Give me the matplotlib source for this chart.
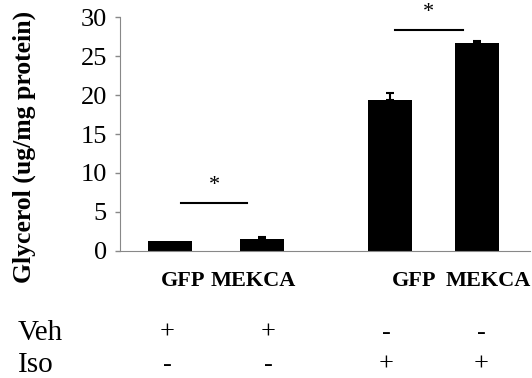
import matplotlib
matplotlib.use("Agg")
import matplotlib.pyplot as plt

groups = ["GFP", "MEKCA", "GFP", "MEKCA"]
values = [1.3, 1.6, 19.4, 26.7]
errors = [0.0, 0.2, 0.9, 0.25]
veh = ["+", "+", "-", "-"]
iso = ["-", "-", "+", "+"]
sig_pairs = [(0, 1), (2, 3)]
sig_heights = [6.2, 28.3]
yticks = [0, 5, 10, 15, 20, 25, 30]

positions = [1.0, 2.0, 3.39, 4.34]

plt.rcParams['font.family'] = ['Liberation Serif', 'DejaVu Serif']

fig = plt.figure(figsize=(5.32, 3.78), dpi=100)
ax = fig.add_axes([0.2256, 0.336, 0.7704, 0.619])

bars = ax.bar(positions, values, width=0.48, color='black')
for p, v, e in zip(positions, values, errors):
    if e > 0:
        ax.errorbar([p], [v], yerr=[[0], [e]], fmt='none', ecolor='black',
                    elinewidth=1.5, capsize=2.6, capthick=1.5)

ax.set_ylim(0, 30)
ax.set_xlim(0.457, 4.91)
ax.set_yticks(yticks)
ax.set_yticklabels([str(t) for t in yticks], fontsize=19)
ax.tick_params(axis='y', length=3.5, color='#888888', width=1, pad=6)
ax.set_xticks([])
for s in ['top', 'right']:
    ax.spines[s].set_visible(False)
ax.spines['left'].set_color('#888888')
ax.spines['bottom'].set_color('#888888')

fig.text(24 / 532, 1 - 147 / 378, "Glycerol (ug/mg protein)", rotation=90,
         ha='center', va='center', fontsize=18.5, fontweight='bold')

# significance lines
offs = [(0.12, -0.16), (0.05, -0.16)]
for (i, j), h, (o1, o2) in zip(sig_pairs, sig_heights, offs):
    x1 = positions[i] + o1
    x2 = positions[j] + o2
    ax.plot([x1, x2], [h, h], color='black', lw=1.5, clip_on=False)
    ax.text((x1 + x2) / 2, h + 1.0, "*", ha='center', va='bottom', fontsize=16, clip_on=False)

# category labels
lab_off = [0.14, -0.10, 0.26, 0.12]
trans = ax.get_xaxis_transform()
for p, g, o in zip(positions, groups, lab_off):
    ax.text(p + o, -0.13, g, transform=trans, ha='center', va='center',
            fontsize=16, fontweight='bold')

# treatment rows
row_off = [-0.03, 0.07, -0.04, 0.04]
for p, v, s, o in zip(positions, veh, iso, row_off):
    ax.text(p + o, -0.35, v, transform=trans, ha='center', va='center', fontsize=19)
    ax.text(p + o, -0.487, s, transform=trans, ha='center', va='center', fontsize=19)
fig.text(18 / 532, 1 - 333 / 378, "Veh", ha='left', va='center', fontsize=21)
fig.text(18 / 532, 1 - 365 / 378, "Iso", ha='left', va='center', fontsize=21)

fig.savefig("out.png", dpi=100)
